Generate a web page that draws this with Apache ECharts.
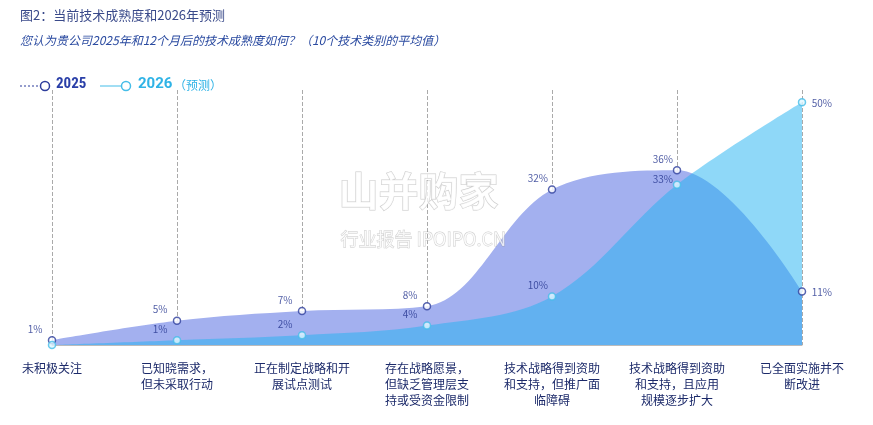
<!DOCTYPE html><html><head><meta charset="utf-8"><script src="https://cdn.jsdelivr.net/npm/echarts@6/dist/echarts.min.js"></script>
<style>body{margin:0}#c{width:873px;height:425px}</style></head><body><div id="c"></div><script>
const categories=['未积极关注','已知晓需求，\n但未采取行动','正在制定战略和开\n展试点测试','存在战略愿景，\n但缺乏管理层支\n持或受资金限制','技术战略得到资助\n和支持，但推广面\n临障碍','技术战略得到资助\n和支持，且应用\n规模逐步扩大','已全面实施并不\n断改进'];
const v2025=[1,5,7,8,32,36,11];
const v2026=[0,1,2,4,10,33,50];
const F='"Noto Sans CJK SC","Noto Sans",sans-serif';
const c=echarts.init(document.getElementById('c'));
const navy='#2d3d9c',cyan='#45bde8';
c.setOption({
 animation:false,
 grid:{left:52,right:71,top:90,bottom:80},
 xAxis:{type:'category',data:categories,boundaryGap:false,
  axisLine:{lineStyle:{color:'#bbb'}},axisTick:{show:false},
  axisLabel:{color:'#1c2a6a',fontSize:12,fontFamily:F,lineHeight:16,margin:15,interval:0},
  splitLine:{show:true,lineStyle:{type:'dashed',color:'#aaa'}}},
 yAxis:{type:'value',min:0,max:52.5,show:false,splitLine:{show:false}},
 series:[
  {type:'line',data:v2025,smooth:0.35,symbol:'none',lineStyle:{width:0},areaStyle:{color:'#a3b0ef',opacity:1},z:2},
  {type:'line',data:v2026,smooth:0.35,symbol:'none',lineStyle:{width:0},areaStyle:{color:'rgba(35,178,241,0.51)',opacity:1},z:3},
  {type:'scatter',data:v2025,symbol:'circle',symbolSize:7,itemStyle:{color:'#fff',borderColor:navy,borderWidth:1.5},z:5,
   label:{show:true,formatter:'{c}%',color:'#24358f',fontSize:10,fontFamily:F,position:[-20,-12]},
   labelLayout:function(p){return p.dataIndex===6?{dx:34,dy:12}:{}} },
  {type:'scatter',data:v2026,symbol:'circle',symbolSize:7,itemStyle:{color:'#dff6ff',borderColor:cyan,borderWidth:1.5},z:5,
   label:{show:true,color:'#24358f',fontSize:10,fontFamily:F,position:[-20,-12],
    formatter:p=>p.dataIndex===0?'':p.value+'%'},
   labelLayout:function(p){return p.dataIndex===6?{dx:34,dy:12}:(p.dataIndex===5?{dy:6}:{})} }
 ],
 graphic:[
  {type:'text',left:20,top:9,style:{text:'图2：当前技术成熟度和2026年预测',fill:'#3a4a8a',font:'13px '+F}},
  {type:'text',left:20,top:34,style:{text:'您认为贵公司2025年和12个月后的技术成熟度如何？（10个技术类别的平均值）',fill:'#2a4aa0',font:'italic 12px '+F}},
  {type:'line',shape:{x1:20,y1:86,x2:40,y2:86},style:{stroke:navy,lineDash:[2,2],lineWidth:1}},
  {type:'circle',shape:{cx:45,cy:86,r:4.5},style:{fill:'#fff',stroke:navy,lineWidth:1.5}},
  {type:'text',left:56,top:77,style:{text:'2025',fill:'#2a3fa8',font:'bold 15px "Roboto Condensed",Roboto,sans-serif'}},
  {type:'line',shape:{x1:100,y1:86,x2:121,y2:86},style:{stroke:cyan,lineWidth:1}},
  {type:'circle',shape:{cx:126,cy:86,r:4.5},style:{fill:'#fff',stroke:cyan,lineWidth:1.5}},
  {type:'text',left:138,top:77,style:{text:'2026',fill:'#2fb3e6',font:'bold 15px Roboto,sans-serif'}},
  {type:'text',left:174,top:79,style:{text:'（预测）',fill:'#2fb3e6',font:'12px '+F}},
  {type:'text',left:338,top:170,z:10,style:{text:'山并购家',fill:'rgba(255,255,255,0.75)',stroke:'rgba(150,150,150,0.5)',lineWidth:1,font:'bold 40px '+F}},
  {type:'text',left:340,top:230,z:10,style:{text:'行业报告 IPOIPO.CN',fill:'rgba(255,255,255,0.75)',stroke:'rgba(150,150,150,0.5)',lineWidth:0.8,font:'18px '+F}}
 ]
});
</script></body></html>
